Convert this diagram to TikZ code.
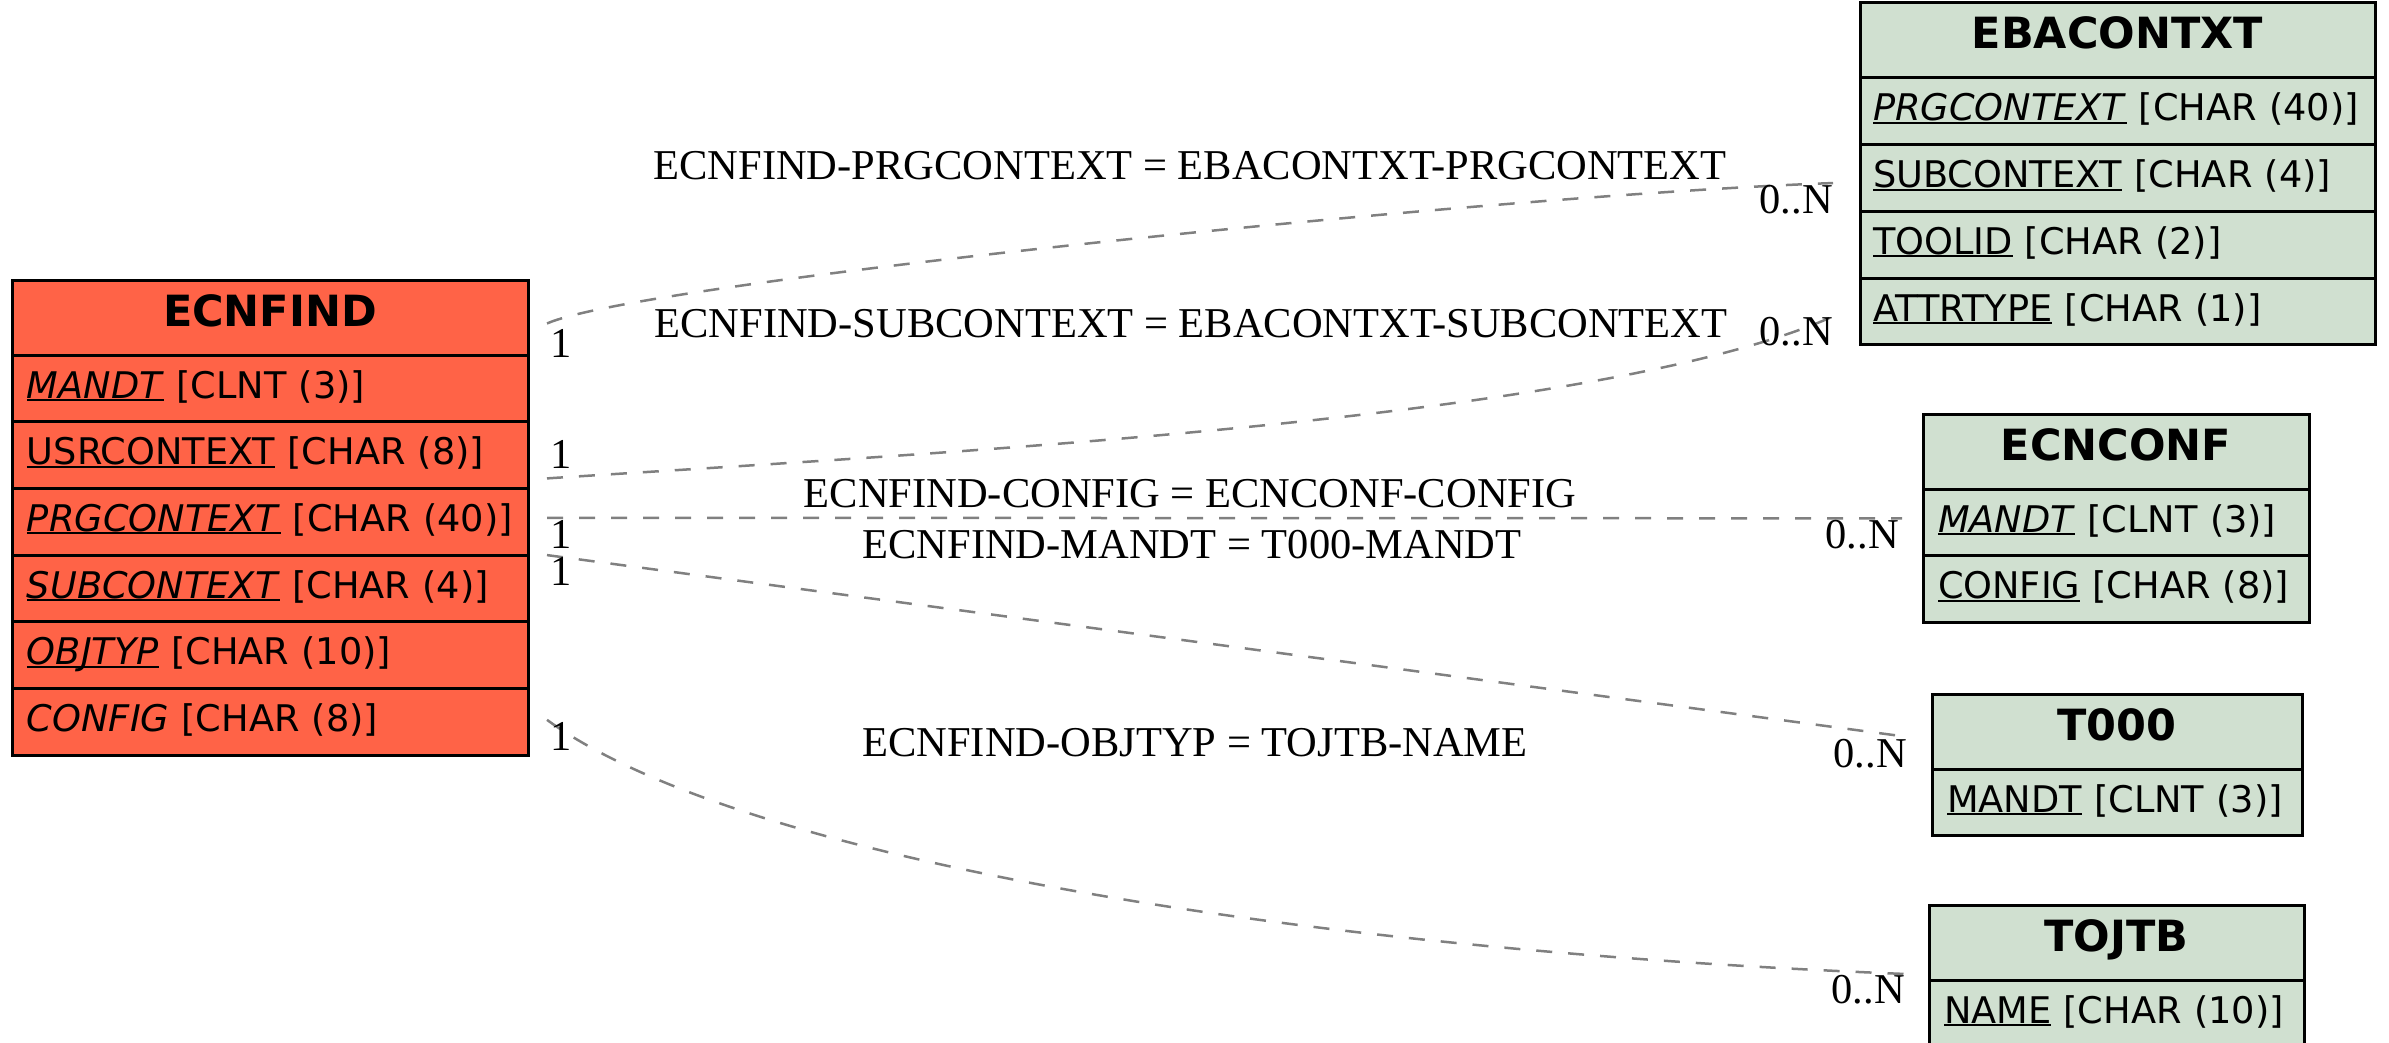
\documentclass[tikz,border=0pt]{standalone}
\usepackage{fontspec}
\setmainfont{DejaVu Sans}
\newfontfamily\lblfont{Liberation Serif}
\usetikzlibrary{positioning}

\definecolor{srccol}{HTML}{FF6347}
\definecolor{dstcol}{HTML}{D0E0D0}
\definecolor{relcol}{HTML}{808080}

\newcommand{\keyfld}[1]{\setbox0=\hbox{#1}\rlap{\rule[-3pt]{\wd0}{2pt}}\box0\relax}

\tikzset{
  tblhead/.style={draw, line width=3pt, outer sep=0pt, anchor=north west, inner xsep=0pt, inner ysep=0pt,
    text height=46pt, text depth=29pt, align=center, font=\fontsize{43}{50}\selectfont\bfseries},
  tblrow/.style={draw, line width=3pt, outer sep=0pt, anchor=north west, inner xsep=15pt, inner ysep=0pt,
    text height=43pt, text depth=23.7pt, align=left, font=\fontsize{36.7}{44}\selectfont},
  rel/.style={draw=relcol, line width=2.5pt, dash pattern=on 16pt off 16pt},
  lbl/.style={font=\lblfont\fontsize{42.5}{50}\selectfont, inner sep=0pt},
}

\begin{document}
\begin{tikzpicture}[x=1pt, y=-1pt]
\useasboundingbox (0,0) rectangle (2389,1043);

% ECNFIND
\node[tblhead, fill=srccol, text width=516pt] (ecnfind) at (12,280) {ECNFIND};
\foreach \f [count=\i] in {{\keyfld{\textit{MANDT}} [CLNT (3)]}, {\keyfld{USRCONTEXT} [CHAR (8)]},
    {\keyfld{\textit{PRGCONTEXT}} [CHAR (40)]}, {\keyfld{\textit{SUBCONTEXT}} [CHAR (4)]},
    {\keyfld{\textit{OBJTYP}} [CHAR (10)]}, {\textit{CONFIG} [CHAR (8)]}}
  \node[tblrow, fill=srccol, text width=486pt] (ecnfind-\i) at (12,{355+(\i-1)*66.7}) {\f};

% EBACONTXT
\node[tblhead, fill=dstcol, text width=515pt] (ebacontxt) at (1860,3) {EBACONTXT};
\foreach \f [count=\i] in {{\keyfld{\textit{PRGCONTEXT}} [CHAR (40)]}, {\keyfld{SUBCONTEXT} [CHAR (4)]},
    {\keyfld{TOOLID} [CHAR (2)]}, {\keyfld{ATTRTYPE} [CHAR (1)]}}
  \node[tblrow, fill=dstcol, inner xsep=13pt, text width=489pt] (ebacontxt-\i) at (1860,{78+(\i-1)*66.7}) {\f};

% ECNCONF
\node[tblhead, fill=dstcol, text width=386pt] (ecnconf) at (1923,414) {ECNCONF};
\foreach \f [count=\i] in {{\keyfld{\textit{MANDT}} [CLNT (3)]}, {\keyfld{CONFIG} [CHAR (8)]}}
  \node[tblrow, fill=dstcol, text width=356pt] (ecnconf-\i) at (1923,{489+(\i-1)*66.7}) {\f};

% T000
\node[tblhead, fill=dstcol, text width=370pt] (t000) at (1932,694) {T000};
\node[tblrow, fill=dstcol, text width=340pt, below=0pt of t000] (t000-1) {\keyfld{MANDT} [CLNT (3)]};

% TOJTB
\node[tblhead, fill=dstcol, text width=375pt] (tojtb) at (1929,905) {TOJTB};
\node[tblrow, fill=dstcol, text width=345pt, below=0pt of tojtb] (tojtb-1) {\keyfld{NAME} [CHAR (10)]};

% relations
\draw[rel] ([xshift=19pt,yshift=-6pt]ecnfind.east) .. controls (640,282) and (1500,195) .. ([xshift=-27pt,yshift=-5pt]ebacontxt-2.west);
\draw[rel] ([xshift=19pt,yshift=10pt]ecnfind-2.south east) .. controls (950,452) and (1600,420) .. ([xshift=-27pt,yshift=-5pt]ebacontxt-4.west);
\draw[rel] ([xshift=19pt,yshift=4pt]ecnfind-3.east) -- ([xshift=-21pt,yshift=4pt]ecnconf-1.west);
\draw[rel] ([xshift=19pt]ecnfind-3.south east) -- ([xshift=-35pt,yshift=-4pt]t000.west);
\draw[rel] ([xshift=19pt,yshift=2pt]ecnfind-6.east) .. controls (740,860) and (1300,950) .. ([xshift=-23pt,yshift=6pt]tojtb.south west);

\node[lbl, anchor=base] (l-prg) at (1190,180) {ECNFIND-PRGCONTEXT = EBACONTXT-PRGCONTEXT};
\node[lbl, anchor=base] (l-sub) at (1191,337) {ECNFIND-SUBCONTEXT = EBACONTXT-SUBCONTEXT};
\node[lbl, anchor=base] (l-conf) at (1190,507) {ECNFIND-CONFIG = ECNCONF-CONFIG};
\node[lbl, anchor=base] (l-mandt) at (1192,558) {ECNFIND-MANDT = T000-MANDT};
\node[lbl, anchor=base] (l-obj) at (1195,756) {ECNFIND-OBJTYP = TOJTB-NAME};

% cardinalities
\node[lbl, anchor=base west] (one-prg) at (550,357) {1};
\node[lbl, anchor=base west] (one-sub) at (550,468) {1};
\node[lbl, anchor=base west] (one-conf) at (550,548) {1};
\node[lbl, anchor=base west] (one-mandt) at (550,585) {1};
\node[lbl, anchor=base west] (one-obj) at (550,750) {1};
\node[lbl, anchor=base east] (n-prg) at (1833,213) {0..N};
\node[lbl, anchor=base east] (n-sub) at (1833,345) {0..N};
\node[lbl, anchor=base east] (n-conf) at (1899,548) {0..N};
\node[lbl, anchor=base east] (n-mandt) at (1907,767) {0..N};
\node[lbl, anchor=base east] (n-obj) at (1905,1003) {0..N};
\end{tikzpicture}
\end{document}
